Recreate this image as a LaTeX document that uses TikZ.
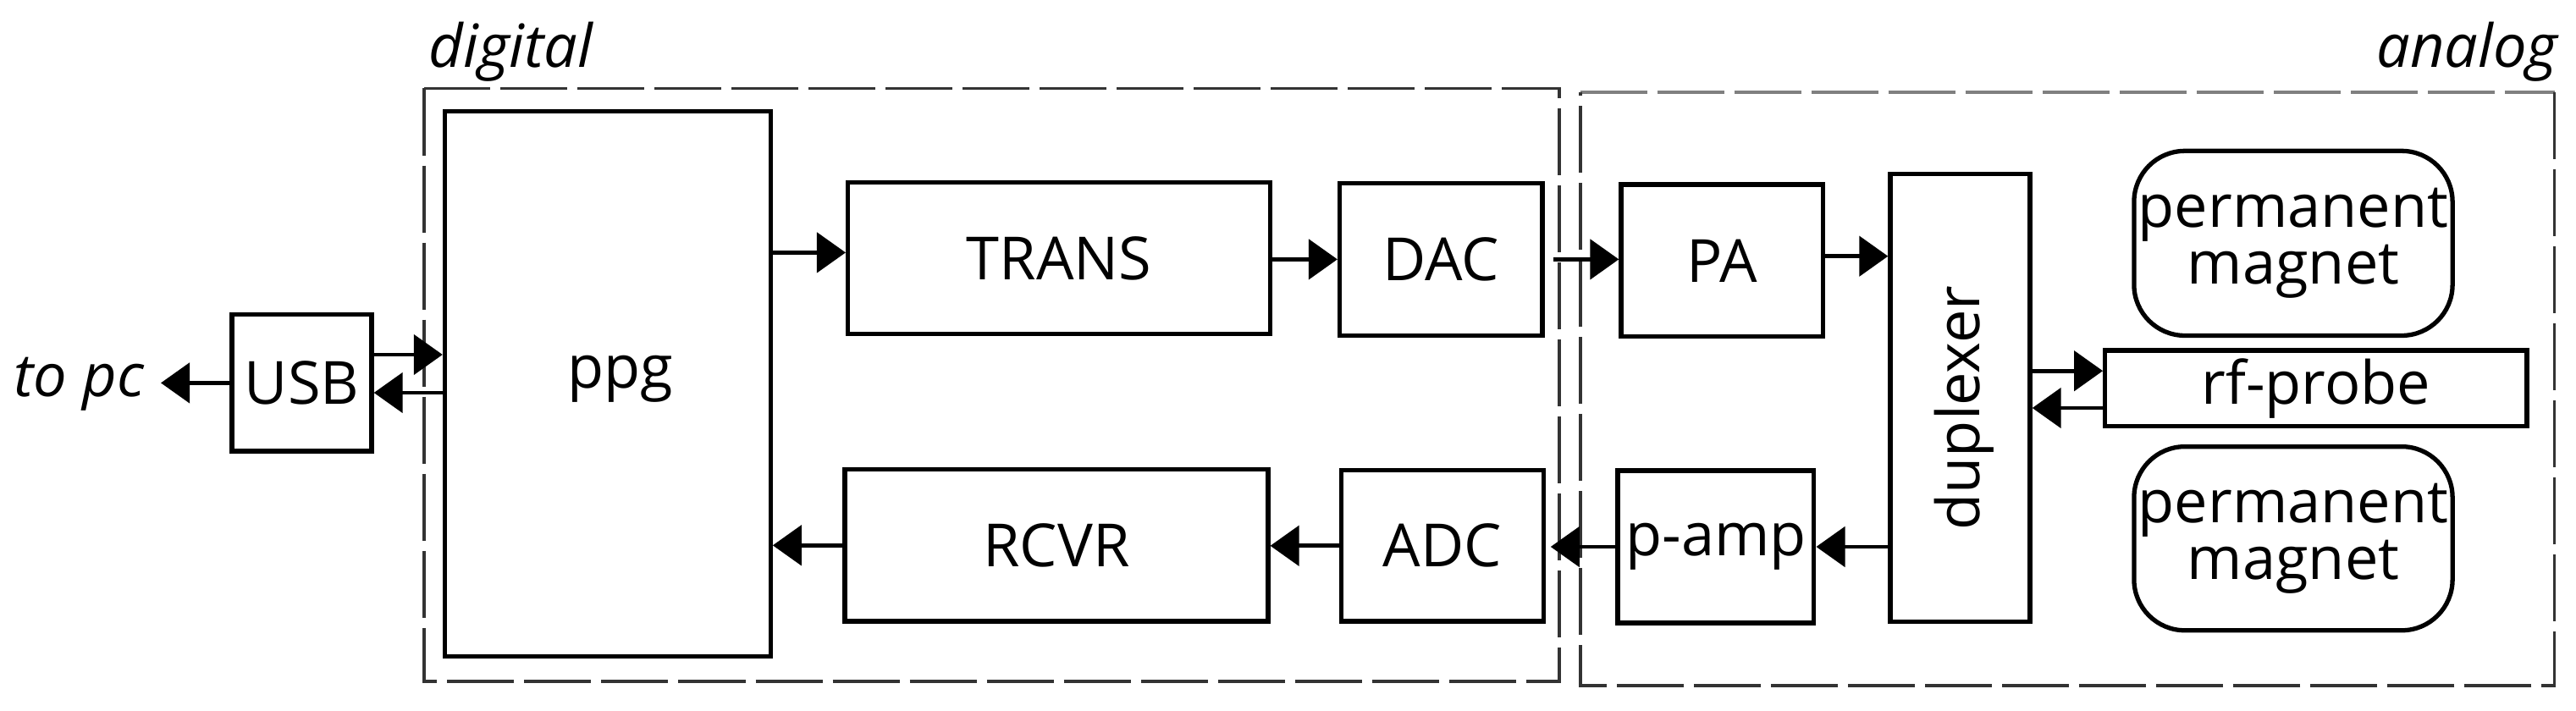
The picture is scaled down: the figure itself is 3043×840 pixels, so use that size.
\documentclass[tikz,border=0pt]{standalone}
\usepackage{fontspec}
\setmainfont{Open Sans}
\usetikzlibrary{arrows.meta}
\begin{document}
\begin{tikzpicture}[x=0.01cm,y=-0.01cm,
  box/.style={draw=black, line width=1.5pt, inner sep=0pt, font=\fontsize{20}{17}\selectfont, align=center},
  txt/.style={inner sep=0pt, font=\fontsize{20}{17}\selectfont},
  itxt/.style={inner sep=0pt, font=\fontsize{20}{17}\selectfont\itshape},
  arr/.style={line width=1.4pt, draw=black, -{Triangle[length=0.34cm,width=0.47cm]}},
  area/.style={draw=black!80, line width=1.1pt, dash pattern=on 0.79cm off 0.12cm}]
\useasboundingbox (0,0) rectangle (3043,840);
% group frames
\draw[area] (500.6,104.5) rectangle (1842,805.2);
\draw[area, draw=black!50] (1866.7,108.7) -- (3017.5,108.7);
\draw[area] (3017.5,108.7) -- (3017.5,810) -- (1866.7,810) -- (1866.7,108.7);
\node[itxt, anchor=base west] (diglbl) at (506,80) {digital};
\node[itxt, anchor=base east] (analbl) at (3022,80) {analog};
% blocks
\node[box, minimum width=1.65cm, minimum height=1.61cm] (USB) at (356.5,452.4) {USB};
\node[box, minimum width=3.845cm, minimum height=6.434cm] (ppg) at (717.8,453.5) {};
\node[txt] (ppgtxt) at (733,448) {ppg};
\node[box, minimum width=4.983cm, minimum height=1.794cm] (TRANS) at (1250.9,305.1) {TRANS};
\node[box, minimum width=2.392cm, minimum height=1.80cm] (DAC) at (1702.2,306.4) {DAC};
\node[box, minimum width=4.997cm, minimum height=1.795cm] (RCVR) at (1247.9,644.3) {RCVR};
\node[box, minimum width=2.383cm, minimum height=1.785cm] (ADC) at (1703.9,644.8) {ADC};
\node[box, minimum width=2.387cm, minimum height=1.795cm] (PA) at (2034.4,307.8) {PA};
\node[box, minimum width=2.317cm, minimum height=1.80cm] (pamp) at (2026.9,646) {p-amp};
\node[box, minimum width=1.65cm, minimum height=5.283cm] (dup) at (2315.5,469.9) {};
\node[txt, rotate=90] (duptxt) at (2320,482) {duplexer};
\node[box, rounded corners=0.6cm, minimum width=3.76cm, minimum height=2.18cm] (mag1) at (2709,287.4) {permanent\\magnet};
\node[box, rounded corners=0.6cm, minimum width=3.76cm, minimum height=2.17cm] (mag2) at (2709,636.2) {permanent\\magnet};
\node[box, minimum width=4.979cm, minimum height=0.896cm] (rf) at (2735.8,458.8) {rf-probe};
\node[itxt, anchor=base east] (topc) at (171,468.7) {to pc};
% connectors
\draw[arr, shorten >=0.19cm] (USB.west) -- (topc.east |- USB.west);
\draw[arr] (USB.east |- 0,419) -- (ppg.west |- 0,419);
\draw[arr] (ppg.west |- 0,464) -- (USB.east |- 0,464);
\draw[arr] (ppg.east |- 0,298.4) -- (TRANS.west |- 0,298.4);
\draw[arr] (TRANS.east |- DAC.west) -- (DAC.west);
\draw[arr, shorten <=0.1cm] (DAC.east) -- (PA.west |- DAC.east);
\draw[arr] (PA.east |- 0,302.7) -- (dup.west |- 0,302.7);
\draw[arr] (dup.east |- 0,438.2) -- (rf.west |- 0,438.2);
\draw[arr] (rf.west |- 0,482) -- (dup.east |- 0,482);
\draw[arr] (dup.west |- pamp.east) -- (pamp.east);
\draw[arr, shorten >=0.06cm] (pamp.west) -- (ADC.east |- pamp.west);
\draw[arr] (ADC.west) -- (RCVR.east |- ADC.west);
\draw[arr] (RCVR.west) -- (ppg.east |- RCVR.west);
\end{tikzpicture}
\end{document}
